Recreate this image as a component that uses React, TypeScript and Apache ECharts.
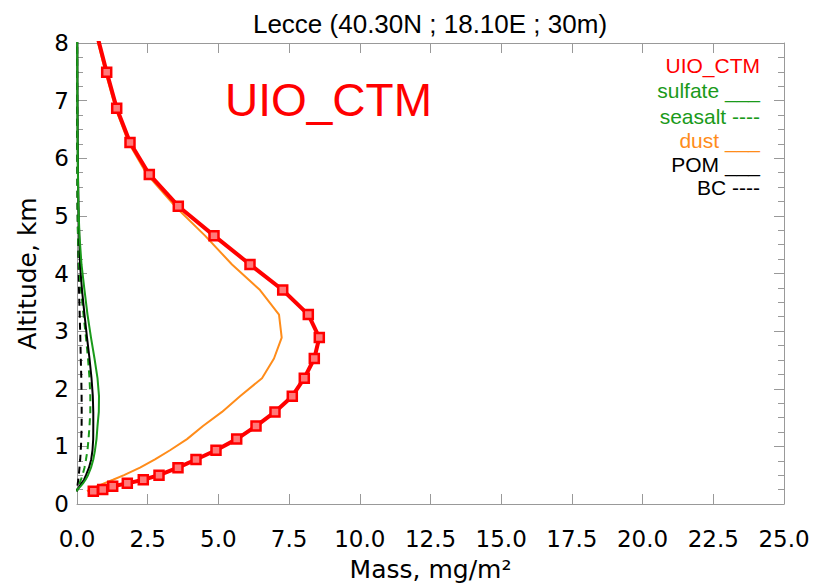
import React, { useEffect, useRef } from "react";
import * as echarts from "echarts";

// Altitude of model levels (km)
const altitudeKm = [8.142, 7.494, 6.869, 6.272, 5.719, 5.168, 4.657, 4.157, 3.713, 3.287, 2.888, 2.525, 2.183, 1.871, 1.598, 1.353, 1.126, 0.933, 0.773, 0.631, 0.5, 0.421, 0.358, 0.307, 0.251, 0.222];

// Mass (mg/m2) per component
const totalMass = [0.707, 1.05, 1.404, 1.874, 2.557, 3.582, 4.844, 6.117, 7.274, 8.179, 8.568, 8.391, 8.037, 7.613, 7.001, 6.33, 5.647, 4.915, 4.208, 3.571, 2.9, 2.344, 1.779, 1.262, 0.909, 0.576];
const dustMass = [0.672, 1.008, 1.361, 1.821, 2.475, 3.465, 4.526, 5.481, 6.471, 7.143, 7.238, 6.966, 6.542, 5.764, 5.127, 4.455, 3.89, 3.289, 2.758, 2.228, 1.662, 1.273, 0.955, 0.707, 0.46, 0.354];
const sulfateMass = [0.007, 0.011, 0.014, 0.021, 0.032, 0.05, 0.088, 0.159, 0.265, 0.371, 0.495, 0.619, 0.725, 0.778, 0.771, 0.725, 0.69, 0.636, 0.576, 0.495, 0.389, 0.301, 0.212, 0.124, 0.018, 0.0];
const seasaltMass = [0.004, 0.004, 0.007, 0.007, 0.011, 0.018, 0.035, 0.071, 0.141, 0.23, 0.318, 0.389, 0.442, 0.47, 0.47, 0.442, 0.407, 0.371, 0.318, 0.265, 0.194, 0.141, 0.088, 0.053, 0.0, 0.0];
const pomMass = [0.011, 0.014, 0.018, 0.025, 0.035, 0.053, 0.078, 0.106, 0.177, 0.265, 0.354, 0.442, 0.513, 0.559, 0.576, 0.576, 0.573, 0.548, 0.502, 0.424, 0.318, 0.248, 0.159, 0.088, 0.018, 0.0];
const bcMass = [0.004, 0.004, 0.004, 0.007, 0.011, 0.018, 0.035, 0.053, 0.071, 0.095, 0.117, 0.134, 0.152, 0.163, 0.166, 0.163, 0.152, 0.134, 0.113, 0.088, 0.064, 0.046, 0.028, 0.014, 0.0, 0.0];

const legendLabels = ["UIO_CTM", "sulfate ___", "seasalt ----", "dust ___", "POM ___", "BC ----"];
const legendColors = ["#ff0000", "#1a9a1a", "#1a9a1a", "#ff8c1a", "#000000", "#000000"];

const titleText = "Lecce (40.30N ; 18.10E ; 30m)";
const modelText = "UIO_CTM";

const pairs = (xs: number[]) => xs.map((x, i) => [x, altitudeKm[i]]);

const AXIS_COLOR = "#999999";

export default function App() {
  const ref = useRef<HTMLDivElement>(null);
  useEffect(() => {
    if (!ref.current) return;
    const chart = echarts.init(ref.current, undefined, { renderer: "svg" });
    const axisCommon = {
      type: "value" as const,
      axisLine: { show: true, onZero: false, lineStyle: { color: AXIS_COLOR, width: 1 } },
      splitLine: { show: false },
    };
    const lineBase = (name: string, data: number[], color: string, dashed: boolean) => ({
      name,
      type: "line" as const,
      data: pairs(data),
      showSymbol: false,
      symbol: "none",
      lineStyle: { color, width: 2, type: dashed ? [7, 5] : "solid" },
      z: 2,
    });
    chart.setOption({
      animation: false,
      backgroundColor: "#ffffff",
      grid: { left: 77, right: 33, top: 43, bottom: 75 },
      xAxis: [
        {
          ...axisCommon,
          position: "bottom",
          min: 0,
          max: 25,
          interval: 2.5,
          axisTick: { show: true, inside: true, length: 10, lineStyle: { color: AXIS_COLOR } },
          axisLabel: {
            formatter: (v: number) => v.toFixed(1),
            fontSize: 23,
            fontFamily: "DejaVu Sans",
            color: "#000",
            margin: 23,
          },
          name: "Mass, mg/m²",
          nameLocation: "middle",
          nameGap: 53,
          nameTextStyle: { fontSize: 25, fontFamily: "DejaVu Sans", color: "#000" },
        },
        {
          ...axisCommon,
          position: "top",
          min: 0,
          max: 25,
          interval: 2.5,
          axisTick: { show: true, inside: true, length: 10, lineStyle: { color: AXIS_COLOR } },
          axisLabel: { show: false },
        },
      ],
      yAxis: [
        {
          ...axisCommon,
          position: "left",
          min: 0,
          max: 8,
          interval: 1,
          axisTick: { show: true, inside: true, length: 10, lineStyle: { color: AXIS_COLOR } },
          minorTick: { show: true, splitNumber: 4, length: 6, lineStyle: { color: AXIS_COLOR } },
          axisLabel: { fontSize: 23, fontFamily: "DejaVu Sans", color: "#000", margin: 8 },
          name: "Altitude, km",
          nameLocation: "middle",
          nameGap: 37,
          nameRotate: 90,
          nameTextStyle: { fontSize: 25, fontFamily: "DejaVu Sans", color: "#000" },
        },
        {
          ...axisCommon,
          position: "right",
          min: 0,
          max: 8,
          interval: 1,
          axisTick: { show: true, inside: true, length: 10, lineStyle: { color: AXIS_COLOR } },
          minorTick: { show: true, splitNumber: 4, length: 6, lineStyle: { color: AXIS_COLOR } },
          axisLabel: { show: false },
        },
      ],
      series: [
        lineBase("BC", bcMass, "#000000", true),
        lineBase("seasalt", seasaltMass, "#1a9a1a", true),
        lineBase("POM", pomMass, "#000000", false),
        lineBase("sulfate", sulfateMass, "#1a9a1a", false),
        lineBase("dust", dustMass, "#ff8c1a", false),
        {
          name: "UIO_CTM",
          type: "line",
          data: pairs(totalMass),
          symbol: "rect",
          symbolSize: 9,
          showSymbol: true,
          lineStyle: { color: "#ff0000", width: 4 },
          itemStyle: { color: "#ff7a7a", borderColor: "#ff0000", borderWidth: 2.5 },
          z: 3,
        },
      ],
      graphic: [
        {
          type: "text",
          x: 430,
          y: 24,
          style: {
            text: titleText,
            fontSize: 26,
            fontFamily: "Liberation Sans",
            fill: "#000",
            align: "center",
            verticalAlign: "middle",
          },
        },
        {
          type: "text",
          x: 225,
          y: 100,
          style: {
            text: modelText,
            fontSize: 46,
            fontFamily: "Liberation Sans",
            fill: "#ff0000",
            align: "left",
            verticalAlign: "middle",
          },
        },
        ...legendLabels.map((t, i) => ({
          type: "text",
          x: 760,
          y: [65, 90, 116, 140, 164, 187][i],
          style: {
            text: t,
            fontSize: 21,
            fontFamily: "Liberation Sans",
            fill: legendColors[i],
            align: "right",
            verticalAlign: "middle",
          },
        })),
      ],
    });
    return () => chart.dispose();
  }, []);
  return <div ref={ref} style={{ width: 817, height: 587, position: "absolute", left: 0, top: 0 }} />;
}
